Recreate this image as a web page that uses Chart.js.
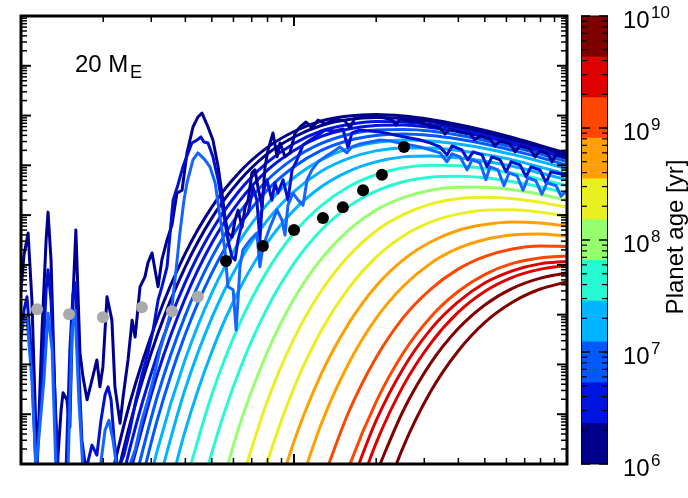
<!DOCTYPE html>
<html>
<head>
<meta charset="utf-8">
<script src="https://cdn.jsdelivr.net/npm/chart.js@4.4.0/dist/chart.umd.min.js"></script>
<style>
  html, body { margin: 0; padding: 0; background: #fff; }
  #wrap { position: relative; width: 688px; height: 498px; }
  canvas { position: absolute; top: 0; }
  #main { left: 0; }
  #bar { left: 570px; }
</style>
</head>
<body>
<div id="wrap">
  <canvas id="main" width="688" height="498"></canvas>
  <canvas id="bar" width="118" height="498"></canvas>
</div>
<script>
// valeurs, en log10 (longueur d'onde et flux)
const logWaveGrid = [0.0, 0.1, 0.2, 0.3, 0.4, 0.5, 0.6, 0.7, 0.8, 0.9, 1.0, 1.1, 1.2, 1.3, 1.4, 1.5, 1.6, 1.7, 1.8, 1.9, 2.0];

// une courbe par âge, du plus jeune au plus vieux
const ageCurves = [
  [null, null, null, -0.96, 1.25, 2.93, 4.21, 5.17, 5.86, 6.35, 6.68, 6.89, 6.99, 7.02, 6.99, 6.92, 6.82, 6.70, 6.56, 6.40, 6.24],
  [null, null, null, -1.49, 0.82, 2.60, 3.94, 4.95, 5.69, 6.22, 6.57, 6.80, 6.92, 6.96, 6.94, 6.88, 6.78, 6.66, 6.52, 6.37, 6.21],
  [null, null, null, -2.10, 0.34, 2.21, 3.63, 4.70, 5.49, 6.05, 6.44, 6.69, 6.82, 6.88, 6.87, 6.82, 6.73, 6.61, 6.48, 6.33, 6.16],
  [null, null, null, null, -0.16, 1.81, 3.31, 4.45, 5.28, 5.89, 6.30, 6.58, 6.73, 6.80, 6.81, 6.76, 6.68, 6.57, 6.43, 6.29, 6.13],
  [null, null, null, null, -0.71, 1.37, 2.96, 4.16, 5.05, 5.69, 6.14, 6.44, 6.62, 6.71, 6.72, 6.69, 6.61, 6.50, 6.37, 6.23, 6.07],
  [null, null, null, null, -1.28, 0.90, 2.58, 3.85, 4.80, 5.49, 5.97, 6.30, 6.50, 6.60, 6.63, 6.60, 6.53, 6.43, 6.30, 6.16, 6.00],
  [null, null, null, null, -2.04, 0.29, 2.08, 3.45, 4.47, 5.21, 5.75, 6.11, 6.34, 6.46, 6.51, 6.49, 6.43, 6.34, 6.22, 6.08, 5.93],
  [null, null, null, null, null, -0.45, 1.48, 2.95, 4.06, 4.88, 5.47, 5.88, 6.14, 6.29, 6.35, 6.35, 6.30, 6.22, 6.11, 5.97, 5.82],
  [null, null, null, null, null, -1.49, 0.64, 2.27, 3.51, 4.43, 5.10, 5.57, 5.88, 6.07, 6.17, 6.19, 6.15, 6.08, 5.98, 5.85, 5.71],
  [null, null, null, null, null, null, -0.43, 1.41, 2.81, 3.86, 4.64, 5.19, 5.57, 5.81, 5.95, 6.00, 5.99, 5.93, 5.84, 5.72, 5.59],
  [null, null, null, null, null, null, -1.87, 0.25, 1.88, 3.11, 4.03, 4.70, 5.17, 5.48, 5.67, 5.76, 5.78, 5.75, 5.67, 5.57, 5.44],
  [null, null, null, null, null, null, null, -1.14, 0.77, 2.22, 3.32, 4.12, 4.70, 5.10, 5.35, 5.50, 5.56, 5.56, 5.51, 5.42, 5.30],
  [null, null, null, null, null, null, null, null, -0.47, 1.23, 2.52, 3.48, 4.18, 4.68, 5.01, 5.22, 5.33, 5.36, 5.33, 5.26, 5.16],
  [null, null, null, null, null, null, null, null, -2.01, 0.00, 1.53, 2.68, 3.53, 4.15, 4.58, 4.86, 5.02, 5.10, 5.11, 5.06, 4.98],
  [null, null, null, null, null, null, null, null, null, -1.34, 0.45, 1.81, 2.82, 3.57, 4.10, 4.46, 4.69, 4.81, 4.86, 4.84, 4.78],
  [null, null, null, null, null, null, null, null, null, null, -0.79, 0.81, 2.02, 2.92, 3.57, 4.03, 4.33, 4.51, 4.60, 4.62, 4.58],
  [null, null, null, null, null, null, null, null, null, null, null, -0.41, 1.04, 2.13, 2.94, 3.51, 3.91, 4.17, 4.32, 4.38, 4.37],
  [null, null, null, null, null, null, null, null, null, null, null, -1.81, -0.08, 1.24, 2.23, 2.95, 3.46, 3.81, 4.03, 4.14, 4.18],
  [null, null, null, null, null, null, null, null, null, null, null, null, -0.55, 0.86, 1.92, 2.70, 3.25, 3.64, 3.88, 4.02, 4.07],
  [null, null, null, null, null, null, null, null, null, null, null, null, -1.12, 0.41, 1.57, 2.42, 3.04, 3.47, 3.75, 3.91, 3.99],
  [null, null, null, null, null, null, null, null, null, null, null, null, null, -0.20, 1.07, 2.02, 2.71, 3.20, 3.53, 3.73, 3.84],
  [null, null, null, null, null, null, null, null, null, null, null, null, null, -1.12, 0.34, 1.45, 2.26, 2.85, 3.25, 3.51, 3.66],
];
// bande de la colorbar pour chaque courbe
const curveBand = [0, 0, 1, 1, 2, 2, 3, 3, 3, 4, 4, 5, 6, 6, 7, 7, 8, 8, 9, 9, 10, 10];

// spectres bruités [log lambda, log flux]
const spectrumDark = [
  [0.000, 3.50], [0.011, 4.20], [0.026, 4.64], [0.040, 3.29], [0.059, -0.12], [0.077, 2.69], [0.092, 4.50], [0.099, 5.06],
  [0.110, 4.10], [0.132, -0.12], [0.147, 1.09], [0.154, 1.43], [0.168, 1.29], [0.179, 0.74], [0.190, 3.29], [0.201, 4.70],
  [0.216, 2.23], [0.227, 1.75], [0.242, 1.29], [0.260, 1.69], [0.278, 2.09], [0.289, 1.55], [0.300, 1.95], [0.315, 3.36],
  [0.333, 2.89], [0.344, 1.55], [0.363, 0.82], [0.374, 1.35], [0.392, 2.09], [0.407, 2.89], [0.418, 2.55], [0.436, 3.56],
  [0.454, 3.76], [0.465, 4.04], [0.480, 4.24], [0.502, 3.56], [0.516, 4.10], [0.535, 4.50], [0.553, 4.80], [0.571, 5.44],
  [0.590, 5.50], [0.608, 6.25], [0.630, 6.77], [0.648, 6.97], [0.663, 7.05], [0.674, 6.91], [0.685, 6.77], [0.703, 6.51],
  [0.722, 5.97], [0.736, 5.44], [0.747, 4.96], [0.758, 4.64], [0.773, 4.56], [0.784, 4.90], [0.795, 5.10], [0.810, 4.76],
  [0.821, 5.16], [0.832, 5.30], [0.846, 5.85], [0.857, 5.91], [0.868, 5.56], [0.883, 5.16], [0.894, 5.97], [0.905, 6.31],
  [0.923, 6.65], [0.938, 6.17], [0.949, 6.45], [0.967, 6.17], [0.985, 6.25], [1.004, 6.65], [1.022, 6.77], [1.044, 6.87],
  [1.066, 6.75], [1.088, 6.91], [1.114, 6.83], [1.150, 6.93], [1.187, 6.89], [1.205, 6.75], [1.223, 6.95], [1.260, 6.97],
  [1.297, 6.99], [1.333, 6.95], [1.359, 6.91], [1.374, 6.81], [1.388, 6.93], [1.425, 6.89], [1.462, 6.87], [1.498, 6.79],
  [1.535, 6.75], [1.553, 6.63], [1.571, 6.73], [1.608, 6.67], [1.645, 6.63], [1.663, 6.51], [1.681, 6.59], [1.718, 6.53],
  [1.736, 6.39], [1.755, 6.49], [1.791, 6.43], [1.810, 6.27], [1.828, 6.39], [1.864, 6.33], [1.883, 6.17], [1.901, 6.29],
  [1.930, 6.23], [1.945, 6.07], [1.960, 6.21], [2.000, 6.15],
];
const spectrumMid = [
  [0.000, 2.49], [0.011, 3.09], [0.022, 3.36], [0.037, 2.29], [0.055, -0.12], [0.077, 1.69], [0.092, 3.50], [0.099, 3.90],
  [0.110, 3.29], [0.125, 1.29], [0.136, -0.12], [0.165, -0.12], [0.179, 2.29], [0.190, 3.40], [0.198, 3.64], [0.209, 2.29],
  [0.223, 0.48], [0.238, -0.12], [0.260, 0.38], [0.278, 0.18], [0.293, 0.88], [0.308, 1.39], [0.319, 1.55], [0.330, 1.29],
  [0.341, 0.48], [0.355, -0.12], [0.377, 0.18], [0.399, 0.68], [0.421, 1.29], [0.443, 1.79], [0.465, 2.23], [0.484, 2.69],
  [0.502, 3.29], [0.516, 3.56], [0.535, 3.96], [0.557, 5.30], [0.575, 5.61], [0.593, 5.97], [0.612, 6.25], [0.626, 6.45],
  [0.645, 6.51], [0.659, 6.57], [0.670, 6.47], [0.685, 6.45], [0.703, 6.17], [0.722, 5.71], [0.740, 5.10], [0.758, 4.50],
  [0.773, 4.16], [0.784, 4.10], [0.795, 4.50], [0.813, 4.90], [0.832, 5.04], [0.850, 5.56], [0.864, 5.30], [0.875, 4.50],
  [0.886, 5.44], [0.901, 5.71], [0.919, 5.30], [0.930, 5.65], [0.941, 5.44], [0.960, 5.71], [0.978, 5.30], [0.993, 5.91],
  [1.011, 6.11], [1.033, 6.41], [1.059, 6.51], [1.088, 6.61], [1.114, 6.71], [1.150, 6.69], [1.179, 6.73], [1.198, 6.35],
  [1.212, 6.65], [1.242, 6.71], [1.278, 6.69], [1.315, 6.67], [1.352, 6.63], [1.388, 6.59], [1.425, 6.55], [1.462, 6.51],
  [1.498, 6.45], [1.535, 6.37], [1.560, 6.21], [1.579, 6.39], [1.615, 6.31], [1.637, 6.11], [1.656, 6.27], [1.689, 6.21],
  [1.707, 5.97], [1.725, 6.17], [1.755, 6.11], [1.777, 5.87], [1.795, 6.07], [1.828, 6.01], [1.850, 5.77], [1.868, 5.97],
  [1.901, 5.91], [1.923, 5.65], [1.941, 5.87], [1.974, 5.83], [2.000, 5.79],
];
const spectrumLight = [
  [0.000, 2.69], [0.011, 2.89], [0.022, 2.93], [0.040, 1.69], [0.055, -0.12], [0.084, 1.69], [0.099, 3.03], [0.114, 2.29],
  [0.128, -0.12], [0.172, -0.12], [0.187, 2.69], [0.198, 3.09], [0.212, 1.29], [0.227, -0.12], [0.289, -0.12], [0.308, 0.68],
  [0.322, 0.88], [0.337, 0.48], [0.352, -0.12], [0.392, -0.12], [0.418, 0.28], [0.443, 0.88], [0.465, 1.29], [0.484, 1.69],
  [0.509, 2.29], [0.531, 2.69], [0.553, 3.15], [0.568, 3.90], [0.582, 4.64], [0.597, 5.30], [0.608, 5.65], [0.630, 6.11],
  [0.648, 6.25], [0.663, 6.17], [0.674, 6.11], [0.692, 5.97], [0.711, 5.65], [0.729, 4.96], [0.747, 4.30], [0.758, 3.56],
  [0.777, 3.50], [0.788, 2.69], [0.802, 3.96], [0.813, 4.30], [0.839, 4.50], [0.864, 4.64], [0.875, 3.96], [0.886, 4.36],
  [0.912, 4.76], [0.938, 5.10], [0.956, 4.90], [0.967, 4.60], [0.978, 5.20], [0.996, 5.44], [1.015, 5.30], [1.033, 5.20],
  [1.048, 5.71], [1.066, 5.91], [1.088, 6.07], [1.114, 6.17], [1.143, 6.27], [1.168, 6.37], [1.194, 6.25], [1.212, 6.37],
  [1.242, 6.43], [1.278, 6.47], [1.315, 6.51], [1.352, 6.49], [1.388, 6.45], [1.425, 6.41], [1.462, 6.37], [1.498, 6.31],
  [1.535, 6.25], [1.560, 6.07], [1.579, 6.23], [1.608, 6.17], [1.634, 5.91], [1.652, 6.11], [1.681, 6.05], [1.703, 5.71],
  [1.718, 5.97], [1.747, 5.91], [1.769, 5.59], [1.788, 5.85], [1.817, 5.79], [1.839, 5.50], [1.857, 5.75], [1.886, 5.69],
  [1.908, 5.42], [1.927, 5.65], [1.960, 5.59], [1.978, 5.38], [2.000, 5.50],
];

// points photométriques [log lambda, log flux]
const blackDots = [[0.751, 4.08], [0.886, 4.38], [1.000, 4.70], [1.106, 4.94], [1.179, 5.16], [1.253, 5.50], [1.322, 5.81], [1.403, 6.37]];
const grayDots = [[0.059, 3.11], [0.176, 3.01], [0.300, 2.95], [0.443, 3.15], [0.553, 3.07], [0.648, 3.36]];

// colorbar : bornes des bandes (yr) et couleurs
const ageEdges = [1e6, 2.31e6, 5.34e6, 1.23e7, 2.85e7, 6.58e7, 1.52e8, 3.51e8, 8.11e8, 1.87e9, 4.33e9, 1e10];
const bandColors = ['#00008c', '#0014e0', '#0058ff', '#00b4ff', '#26fad2', '#96ff6e', '#eaf020', '#ffa000', '#ff4600', '#dc0000', '#800000'];
const ageExponents = [6, 7, 8, 9, 10];

const FONT = '"Liberation Sans", Arial, Helvetica, sans-serif';

const toPts = arr => arr.map(([lx, ly]) => ({ x: Math.pow(10, lx), y: Math.pow(10, ly) }));

const datasets = [];
datasets.push({ data: toPts(blackDots), showLine: false, pointRadius: 6, pointBackgroundColor: '#000', pointBorderWidth: 0, order: 0 });
datasets.push({ data: toPts(grayDots), showLine: false, pointRadius: 6, pointBackgroundColor: '#aaaaaa', pointBorderWidth: 0, order: 0 });

[[spectrumLight, '#1464ff'], [spectrumMid, '#0010d0'], [spectrumDark, '#000090']].forEach(([spec, col], i) => {
  datasets.push({
    data: toPts(spec), borderColor: col, borderWidth: 3, pointRadius: 0, tension: 0,
    borderJoinStyle: 'round', fill: false, order: 1 + i,
  });
});

ageCurves.forEach((curve, i) => {
  const pts = [];
  curve.forEach((v, k) => { if (v !== null) pts.push({ x: Math.pow(10, logWaveGrid[k]), y: Math.pow(10, v) }); });
  datasets.push({
    data: pts, borderColor: bandColors[curveBand[i]], borderWidth: 3, pointRadius: 0,
    cubicInterpolationMode: 'monotone', fill: false, order: 10 + i,
  });
});

function tick(ctx, x1, y1, x2, y2) {
  ctx.beginPath(); ctx.moveTo(x1, y1); ctx.lineTo(x2, y2); ctx.stroke();
}

const framePlugin = {
  id: 'frame',
  afterDraw(chart) {
    const { ctx, chartArea: a, scales: { x, y } } = chart;
    ctx.save();
    ctx.strokeStyle = '#000';
    for (let e = 0; e < 2; e++) {
      for (let m = 1; m <= 9; m++) {
        const px = x.getPixelForValue(m * Math.pow(10, e));
        const len = m === 1 ? 10 : 6;
        ctx.lineWidth = m === 1 ? 2 : 1.5;
        tick(ctx, px, a.bottom, px, a.bottom - len);
        tick(ctx, px, a.top, px, a.top + len);
      }
    }
    for (let e = 0; e < 9; e++) {
      for (let m = 1; m <= 9; m++) {
        const py = y.getPixelForValue(m * Math.pow(10, e));
        const len = m === 1 ? 10 : 6;
        ctx.lineWidth = m === 1 ? 2 : 1.5;
        tick(ctx, a.left, py, a.left + len, py);
        tick(ctx, a.right, py, a.right - len, py);
      }
    }
    ctx.lineWidth = 3;
    ctx.strokeRect(a.left, a.top, a.width, a.height);

    ctx.fillStyle = '#000';
    ctx.textBaseline = 'alphabetic';
    ctx.font = '24px ' + FONT;
    ctx.fillText('20 M', 75, 72);
    ctx.font = '18px ' + FONT;
    ctx.fillText('E', 130, 78);
    ctx.restore();
  }
};

new Chart(document.getElementById('main'), {
  type: 'line',
  data: { datasets },
  options: {
    responsive: false,
    animation: false,
    devicePixelRatio: 1,
    layout: { padding: { left: 21, top: 16, right: 121, bottom: 34 } },
    scales: {
      x: { type: 'logarithmic', min: 1, max: 100, display: false },
      y: { type: 'logarithmic', min: 1, max: 1e9, display: false },
    },
    plugins: { legend: { display: false }, tooltip: { enabled: false } },
  },
  plugins: [framePlugin],
});

const colorbarPlugin = {
  id: 'colorbar',
  afterDraw(chart) {
    const { ctx, chartArea: a, scales: { y } } = chart;
    ctx.save();
    ctx.strokeStyle = '#000';
    for (let e = 6; e <= 10; e++) {
      for (let m = 1; m <= 9; m++) {
        const v = m * Math.pow(10, e);
        if (v > 1e10) break;
        const py = y.getPixelForValue(v);
        const len = m === 1 ? 9 : 6;
        ctx.lineWidth = m === 1 ? 1.5 : 1.2;
        tick(ctx, a.left, py, a.left + len, py);
        tick(ctx, a.right, py, a.right - len, py);
      }
    }
    ctx.lineWidth = 1;
    ctx.strokeRect(a.left + 0.5, a.top, a.width - 1, a.height);

    ctx.fillStyle = '#000';
    ctx.textAlign = 'left';
    ctx.textBaseline = 'alphabetic';
    ageExponents.forEach(e => {
      const py = y.getPixelForValue(Math.pow(10, e));
      ctx.font = '24px ' + FONT;
      ctx.fillText('10', a.right + 15, py + 12);
      ctx.font = '17px ' + FONT;
      ctx.fillText(String(e), a.right + 43, py + 2);
    });

    ctx.translate(113, 237);
    ctx.rotate(-Math.PI / 2);
    ctx.textAlign = 'center';
    ctx.font = '24px ' + FONT;
    ctx.fillText('Planet age [yr]', 0, 0);
    ctx.restore();
  }
};

new Chart(document.getElementById('bar'), {
  type: 'bar',
  data: {
    labels: ['age'],
    datasets: bandColors.map((c, i) => ({
      data: [[ageEdges[i], ageEdges[i + 1]]],
      backgroundColor: c, borderWidth: 0,
      barPercentage: 1, categoryPercentage: 1, grouped: false,
    })),
  },
  options: {
    responsive: false,
    animation: false,
    devicePixelRatio: 1,
    layout: { padding: { left: 11, right: 80, top: 16, bottom: 34 } },
    scales: {
      x: { display: false },
      y: { type: 'logarithmic', min: 1e6, max: 1e10, display: false },
    },
    plugins: { legend: { display: false }, tooltip: { enabled: false } },
  },
  plugins: [colorbarPlugin],
});
</script>
</body>
</html>
